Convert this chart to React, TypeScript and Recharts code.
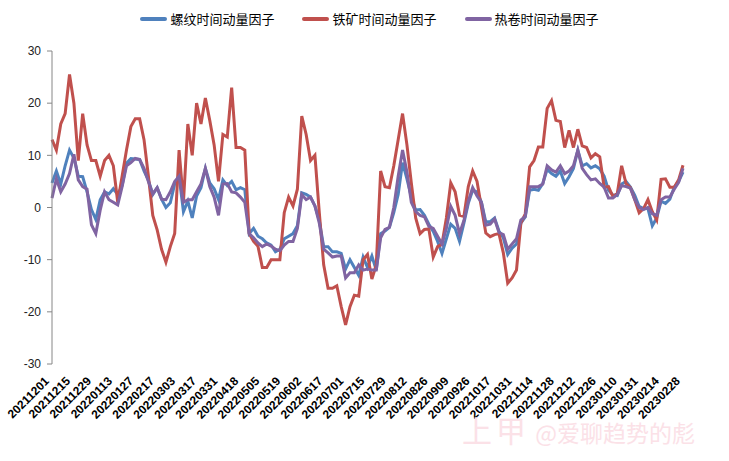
import { LineChart, Line, XAxis, YAxis, Legend } from "recharts";

// 每约2个交易日取一个点（2021-12-01 至 2023-02-28，共300个交易日）
const TRADING_DAYS = 300;

const dateLabels = [
  "20211201", "20211215", "20211229", "20220113", "20220127", "20220217",
  "20220303", "20220317", "20220331", "20220418", "20220505", "20220519",
  "20220602", "20220617", "20220701", "20220715", "20220729", "20220812",
  "20220826", "20220909", "20220926", "20221017", "20221031", "20221114",
  "20221128", "20221212", "20221226", "20230110", "20230131", "20230214",
  "20230228",
];

const yTicks = [-30, -20, -10, 0, 10, 20, 30];

const seriesNames = ["螺纹时间动量因子", "铁矿时间动量因子", "热卷时间动量因子"];

// 螺纹
const rebar = [
  4.7, 7, 4.5, 8, 11, 9.5, 6, 5.9, 3, -0.4,
  -2.3, 1.5, 3, 2.6, 3.6, 2.5, 4.2, 8.5, 9.4, 9.3,
  9.2, 7, 5.2, 2.5, 3.8, 1.6, 0, 0.9, 4.5, 6,
  -0.8, 1.2, -2, 2.2, 3.8, 7.5, 4.7, 3.6, 1.5, 5.3,
  4.2, 5, 3.4, 3.8, 3.4, -5, -4, -5.5, -6, -6.8,
  -7.2, -8.5, -8, -6, -5.5, -5, -3.5, 2.8, 2.5, 2,
  0.3, -2.5, -7.5, -7.5, -8.5, -8.5, -8.8, -11.8, -10, -11.5,
  -13, -9.5, -11.5, -9.3, -12, -5, -4.5, -3.8, -1, 2.5,
  8.6, 5.5, 2, -0.5, -0.4, -1.5, -3.2, -4.6, -6.5, -8.8,
  -6, -3.2, -4, -6.5, -3, 0.8, 3.3, 3, 1, -2.8,
  -2.7, -2, -4.5, -5.8, -9, -7.8, -7, -3, -1.8, 3.3,
  3.5, 3.3, 4.6, 7.3, 6.5, 6, 7, 4.6, 5.9, 7.5,
  11, 8, 8.4, 7.6, 8, 7.4, 6, 3.3, 2.4, 2.3,
  4.5, 5, 3.9, 2.3, 0.2, -0.2, -0.2, -3.5, -2, 1.2,
  0.8, 1.6, 3.9, 5, 6.8,
];

// 铁矿
const ironOre = [
  13, 11, 16, 18, 25.5, 20, 9, 18, 12, 9,
  9, 6, 9, 10, 8, 1, 6, 11, 15.5, 17,
  17, 13, 6, -1.5, -4.3, -8, -10.5, -7.5, -5, 11,
  1, 16, 10, 20, 16, 21, 16.7, 12, 5, 14,
  13.5, 23, 11.5, 11.5, 11, -5, -6.5, -7.4, -11.5, -11.5,
  -10, -10, -10, -1, 2, 0.3, 3.5, 17.5, 14, 9,
  10, -1, -11, -15.5, -15.5, -15, -19, -22.5, -19, -16.8,
  -17, -10, -9, -13.7, -11, 7, 4, 3.8, 8, 13,
  18, 12, 4.7, -2, -5, -4.2, -4.1, -9.5, -7.5, -7,
  -2, 4.7, 3, -1.5, -1.7, 4, 7, 5, 0, -4.9,
  -5.6, -5.2, -5, -8.7, -14.5, -13.5, -12, -3, -1.2, 7.8,
  9, 11.6, 11.6, 19, 20.5, 16.7, 16.5, 11.5, 14.8, 11.5,
  15, 11.8, 11.5, 9.5, 10.3, 9.7, 3.9, 4, 2.1, 2.7,
  8, 4.6, 3.8, 1.5, -1, -0.2, 1.5, -0.8, -2.4, 5.4,
  5.5, 3.9, 3.9, 5.3, 8.1,
];

// 热卷
const hotCoil = [
  1.8, 5.5, 3, 4.5, 6.5, 10.2, 5.3, 4, 3.5, -3.3,
  -5, -0.5, 3, 1.5, 1, 0.5, 4, 8, 8.6, 9.4,
  9.2, 7.5, 5, 2.6, 3.8, 1.6, 1.5, 3, 5, 6,
  1, 1.5, 1.5, 3, 4.5, 7.5, 4, 2, -1.5, 4.5,
  4.6, 3, 2.8, 2, 1, -5, -5.8, -6.8, -7.5, -7,
  -7.4, -8, -8.3, -7.2, -6.5, -6.5, -4, 2.5, 1.5, 2,
  0.3, -3, -8, -8.7, -9.5, -9.3, -9.3, -13.5, -12.5, -12.5,
  -11, -12, -11.8, -12, -12, -5.8, -4.2, -3.8, 0, 6,
  11, 6.8, 1, -0.8, -1.5, -1.8, -3.6, -4, -5.5, -7,
  -4, 0.2, -1.5, -5, -2.5, 1.2, 3.8, 2.2, 1, -3.4,
  -3.2, -2.2, -4.8, -5.2, -8, -7, -6, -2.4, -1.7, 4,
  4, 4, 4.5, 8, 7.2, 6.8, 8, 6.5, 7, 8,
  11, 7.5, 6.3, 5.3, 5.5, 4.6, 3.9, 1.8, 1.8, 2.5,
  4.2, 4, 3.7, 1.5, 0, -0.4, 0, -1.2, -1.5, 1.5,
  2, 2, 3.5, 4.8, 7.5,
];

const data = rebar.map((v, i) => ({
  day: (i * TRADING_DAYS) / (rebar.length - 1),
  rebar: v,
  ore: ironOre[i],
  coil: hotCoil[i],
}));

const xTicks = dateLabels.map((_, i) => i * 10);

function DateTick(props: any) {
  const { x, y, payload } = props;
  const label = dateLabels[Math.round(payload.value / 10)];
  return (
    <g transform={`translate(${x - 5},${y + 15})`}>
      <text
        textAnchor="end"
        transform="rotate(-45)"
        dy={4}
        fontSize={12}
        fontWeight="bold"
        fill="#000"
        fontFamily="'Liberation Sans', Arial, sans-serif"
      >
        {label}
      </text>
    </g>
  );
}

function LegendContent(props: any) {
  const items = [...(props.payload || [])].sort(
    (a: any, b: any) => seriesNames.indexOf(a.value) - seriesNames.indexOf(b.value)
  );
  return (
    <div
      style={{
        display: "flex",
        justifyContent: "center",
        alignItems: "center",
        paddingLeft: 10,
        height: 18,
        fontFamily: "'Noto Sans CJK SC', sans-serif",
        fontSize: 13,
        color: "#000",
      }}
    >
      {items.map((entry: any, i: number) => (
        <div
          key={entry.value}
          style={{ display: "flex", alignItems: "center", marginLeft: i === 0 ? 0 : 28 }}
        >
          <span
            style={{
              display: "inline-block",
              width: 27,
              height: 4,
              borderRadius: 2,
              background: entry.color,
              marginRight: 3,
            }}
          />
          <span style={{ lineHeight: "18px" }}>{entry.value}</span>
        </div>
      ))}
    </div>
  );
}

export default function App() {
  return (
    <div style={{ position: "absolute", left: 0, top: 0, width: 729, height: 461, background: "#fff" }}>
      <LineChart
        width={729}
        height={461}
        data={data}
        margin={{ top: 51, right: 46, bottom: 0, left: 0 }}
      >
        <XAxis
          dataKey="day"
          type="number"
          domain={[0, TRADING_DAYS]}
          ticks={xTicks}
          interval={0}
          axisLine={false}
          tickLine={false}
          tickSize={0}
          tickMargin={0}
          height={97}
          tick={<DateTick />}
        />
        <YAxis
          domain={[-30, 30]}
          ticks={yTicks}
          interval={0}
          width={52}
          axisLine={{ stroke: "#868686" }}
          tickLine={{ stroke: "#868686" }}
          tickSize={5}
          tickMargin={6}
          tick={{ fill: "#222", fontSize: 12, fontFamily: "'Liberation Sans', Arial, sans-serif" }}
        />
        <Legend
          verticalAlign="middle"
          layout="horizontal"
          itemSorter={null}
          wrapperStyle={{ top: 10, left: 0, width: 729 }}
          content={<LegendContent />}
        />
        <Line
          type="linear"
          dataKey="rebar"
          name={seriesNames[0]}
          stroke="#4F81BD"
          strokeWidth={3}
          dot={false}
          isAnimationActive={false}
        />
        <Line
          type="linear"
          dataKey="ore"
          name={seriesNames[1]}
          stroke="#C0504D"
          strokeWidth={3}
          dot={false}
          isAnimationActive={false}
        />
        <Line
          type="linear"
          dataKey="coil"
          name={seriesNames[2]}
          stroke="#8064A2"
          strokeWidth={3}
          dot={false}
          isAnimationActive={false}
        />
      </LineChart>
      <div
        style={{
          position: "absolute",
          left: 462,
          top: 412,
          color: "#fbe1e7",
          fontFamily: "'Noto Sans CJK SC', sans-serif",
          whiteSpace: "nowrap",
          lineHeight: "34px",
        }}
      >
        <span style={{ fontSize: 30, letterSpacing: 4 }}>上甲</span>
        <span style={{ fontSize: 23 }}> @爱聊趋势的彪</span>
      </div>
    </div>
  );
}
